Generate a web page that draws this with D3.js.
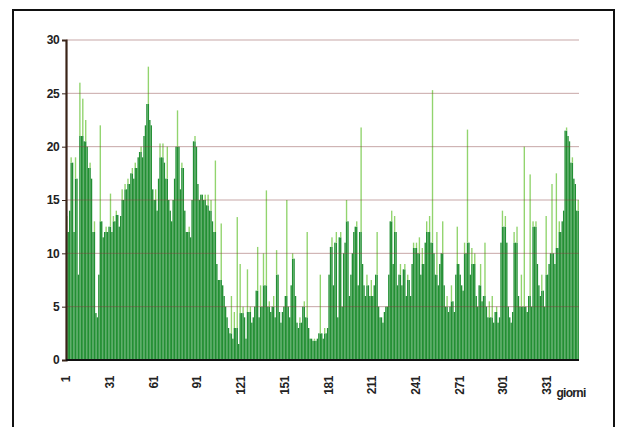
<!DOCTYPE html>
<html><head><meta charset="utf-8">
<script src="https://cdn.jsdelivr.net/npm/d3@7"></script>
<style>body{margin:0;background:#fff}svg{display:block}text{font-family:"Liberation Sans",Arial,sans-serif;font-weight:bold}</style>
</head><body><svg id="c" width="618" height="427"></svg>
<script>
const values = [
13.5,12,14,19,18.5,12,19,17,8,26,
21,24.5,20.5,22.5,20,18,18.5,17,12,13,
4.4,4,8,22,13,11.5,12,12.5,12,12.5,
15.6,12,13.5,13,14,13.6,12.5,13.5,16,15,
16.5,16,17,16.5,17.5,18,17,18.5,18,19,
19.5,20,19,21,22,24,27.5,22.5,22,16,
15,16,14,17,20.3,19,20.3,18.5,17,20,
15,14,13,15,17,20,23.4,20,16,18.5,
18,14,12,12,12.5,11.5,15,20.5,21,20,
16.5,15,15.5,15.5,15,15.5,14.5,15.5,14,15,
13,12,18.7,9,7.5,7.5,12.8,7,6,5,
4,3,2.5,6,2,4.5,3,13.4,1.5,9,
4.4,5,4,2,8.5,4.5,5,3.5,4,5,
6.5,10.6,4,7,5,10,7,15.9,5,5.5,
4.5,5,6,4,10.3,8,4.5,3.5,4.5,5,
6,15,5,4,7,10,9.5,6,3.5,3,
4,3.5,5,5.5,4,12,3,2,2,1.8,
2,1.8,2,2.5,8,2.5,2,3,2.5,3,
8,10.6,11.5,7,11,12,4,11.5,12,5,
10,11,15,13,6,8,10,12,12.5,13,
7,12,21.8,9,7,6,8,7,6,7.5,
6,7,8,12,5,4,4,3.5,4.5,5,
5,8,13,14,9,13.5,12,7,8,9,
7,8.5,9,6,8,7.5,6,9,11,10.5,
11,10,11.5,8,10.5,9,11,13,12,13.5,
11,25.3,10,8,12,7,9,10,13,7,
5,6,4.5,5,7,5.5,4.5,8,12.5,9,
8,7,6.5,11,10,21.6,11,8,10.5,9,
10,6,5,7,9,5.5,6,11,5,4,
5.5,4,6,3.5,4.5,5,3.5,4,11,14,
12.5,13.5,11,5,4,3.5,4.5,12,11,12.5,
6,5,8,5,20,5,4.5,6,17.4,5,
13,12.5,13,9,7,6,8,6.5,5,13.5,
8,9,10,16.5,10,9,17.5,10.5,13,12,
13,14,21.5,21.8,21,20.5,18.5,19,17,16.5,14,15
];
const days = values.map((d,i)=>i+1);
const yTicks = [0,5,10,15,20,25,30];
const xTickLabels = [1,31,61,91,121,151,181,211,241,271,301,331];
const xAxisTitle = "giorni";

const svg = d3.select("#c");
const mL = 66, mR = 579, mT = 40, mB = 360;
const x = d3.scaleBand().domain(days).range([mL, mR]).padding(0.06);
const y = d3.scaleLinear().domain([0,30]).range([mB, mT]);

// outer frame
svg.append("rect").attr("x",13).attr("y",10).attr("width",601).attr("height",440)
  .attr("fill","none").attr("stroke","#111").attr("stroke-width",2);

// bars
const core = values.map((v,i)=>{
  const a = i>0?values[i-1]:0, b = i<values.length-1?values[i+1]:0;
  return Math.min(v, Math.max(a,b));
});
const g = svg.append("g");
g.selectAll("rect.core").data(days).join("rect").attr("class","core")
  .attr("x",d=>x(d)).attr("width",x.bandwidth())
  .attr("y",d=>y(core[d-1])).attr("height",d=>mB-y(core[d-1]))
  .attr("fill","#228f33");
g.selectAll("rect.tip").data(days).join("rect").attr("class","tip")
  .attr("x",d=>x(d)).attr("width",x.bandwidth())
  .attr("y",d=>y(values[d-1])).attr("height",d=>Math.max(0,y(core[d-1])-y(values[d-1])))
  .attr("fill","#92d46e");

// gridlines
svg.append("g").selectAll("line").data(yTicks.filter(t=>t>0)).join("line")
  .attr("x1",mL).attr("x2",mR).attr("y1",d=>y(d)).attr("y2",d=>y(d))
  .attr("stroke","rgba(130,60,60,0.45)").attr("stroke-width",1);

// y axis
const ya = svg.append("g").attr("transform",`translate(${mL},0)`)
  .call(d3.axisLeft(y).tickValues(yTicks).tickSize(4).tickPadding(3));
ya.select(".domain").attr("stroke","#3a2418").attr("stroke-width",2.2);
ya.selectAll(".tick line").attr("stroke","#3a2418");
ya.selectAll("text").attr("font-size",12).attr("font-weight","bold").attr("fill","#222")
  .attr("font-family","'Liberation Sans',Arial,sans-serif").style("letter-spacing","-0.6px");

// x axis
const xa = svg.append("g").attr("transform",`translate(0,${mB})`)
  .call(d3.axisBottom(x).tickValues(xTickLabels).tickSize(0).tickPadding(0));
xa.select(".domain").attr("stroke","#111").attr("stroke-width",2.2)
  .attr("d",`M${mL},0H${mR}`);
xa.selectAll("text").attr("font-size",12).attr("font-weight","bold").attr("fill","#222")
  .attr("font-family","'Liberation Sans',Arial,sans-serif").style("letter-spacing","-0.4px")
  .attr("transform","rotate(-90)").attr("text-anchor","end")
  .attr("x",-16).attr("y",0).attr("dy","0.35em");
xa.selectAll(".tick").attr("transform",d=>`translate(${x(d)},0)`);

svg.append("text").attr("x",571).attr("y",397).attr("text-anchor","middle")
  .attr("font-size",12).attr("fill","#222").style("letter-spacing","-0.7px").text(xAxisTitle);
</script></body></html>
